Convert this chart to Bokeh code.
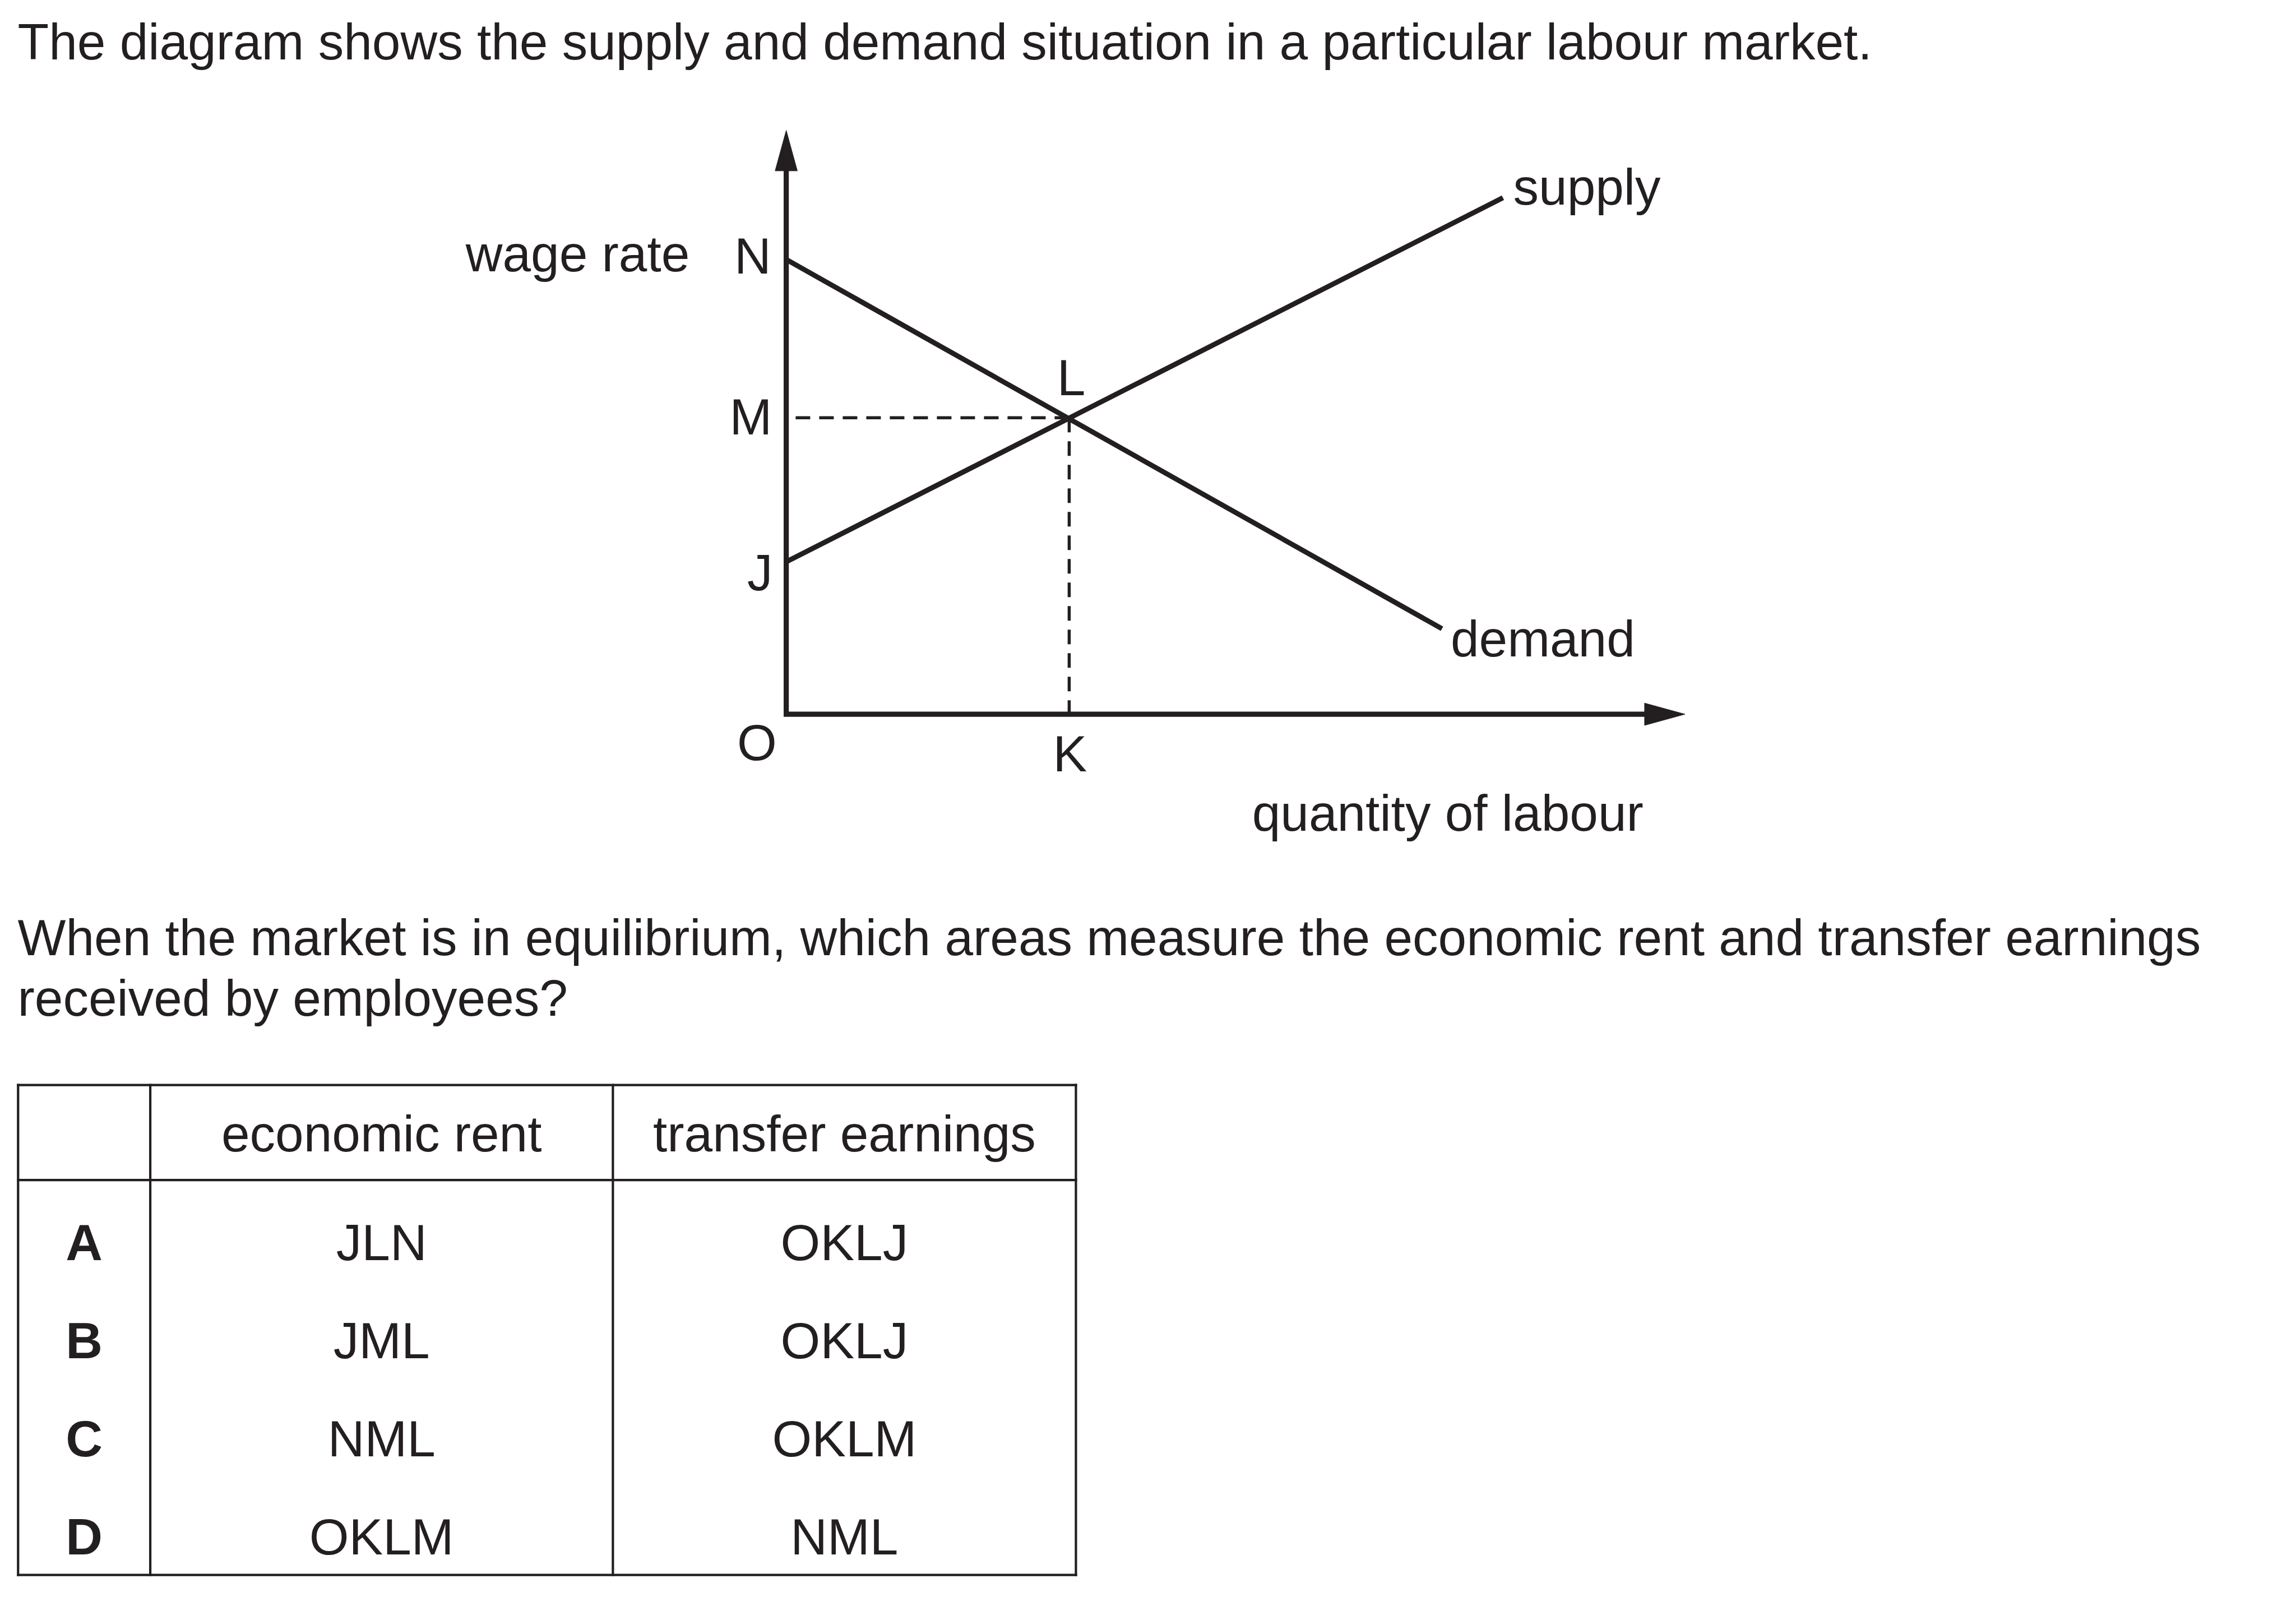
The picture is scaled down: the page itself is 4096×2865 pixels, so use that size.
from bokeh.plotting import figure
from bokeh.models import Range1d
from bokeh.core.properties import value
from bokeh.embed import file_html
from bokeh.resources import INLINE

# ---------------- data ----------------
title_text = "The diagram shows the supply and demand situation in a particular labour market."
question_lines = [
    "When the market is in equilibrium, which areas measure the economic rent and transfer earnings",
    "received by employees?",
]
y_axis_label = "wage rate"
x_axis_label = "quantity of labour"
supply_label = "supply"
demand_label = "demand"

# diagram values: quantity of labour (q) and wage rate (w), diagram units
supply_q = [0.0, 18.11]
supply_w = [3.85, 13.05]
demand_q = [0.0, 16.57]
demand_w = [11.49, 2.16]
eq_q = 7.15          # K
eq_w = 7.49          # M
q_axis_max = 22.71
w_axis_max = 14.75

point_names = ["N", "M", "J", "O", "K", "L"]
point_q = [0.0, 0.0, 0.0, 0.0, eq_q, eq_q]
point_w = [demand_w[0], eq_w, supply_w[0], 0.0, 0.0, eq_w]

table_header = ["economic rent", "transfer earnings"]
options = ["A", "B", "C", "D"]
economic_rent = ["JLN", "JML", "NML", "OKLM"]
transfer_earnings = ["OKLJ", "OKLJ", "OKLM", "NML"]

# ---------------- layout / style ----------------
S = 0.706                     # output px per reference px
W, H = 4080, 2849
REF_W, REF_H = W / S, H / S
INK = "#231F20"
FONT = "Liberation Sans"
FS = "91px"
BF = -44                      # baseline correction (reference px)

ORIGIN_X, ORIGIN_Y = 1986, 1804   # reference px of diagram origin
UNIT = 100.0                       # reference px per diagram unit
HEAD_LEN, HEAD_W = 102 / UNIT, 56 / UNIT

p = figure(width=W, height=H, x_range=Range1d(0, REF_W), y_range=Range1d(REF_H, 0),
           output_backend="svg", toolbar_location=None, min_border=0,
           x_axis_location=None, y_axis_location=None, outline_line_color=None,
           title=None, background_fill_color="white", border_fill_color="white")
p.grid.visible = False
p.extra_x_ranges = {"d": Range1d((0 - ORIGIN_X) / UNIT, (REF_W - ORIGIN_X) / UNIT)}
p.extra_y_ranges = {"d": Range1d((ORIGIN_Y - REF_H) / UNIT, ORIGIN_Y / UNIT)}
D = dict(x_range_name="d", y_range_name="d")

# axes with arrowheads
p.line([0, 0, q_axis_max - HEAD_LEN + 0.05], [w_axis_max - HEAD_LEN + 0.05, 0, 0],
       line_width=9.2, line_color=INK, line_join="miter", **D)
p.patch([-HEAD_W / 2, 0, HEAD_W / 2], [w_axis_max - HEAD_LEN, w_axis_max, w_axis_max - HEAD_LEN],
        fill_color=INK, line_color=INK, line_width=1, **D)
p.patch([q_axis_max - HEAD_LEN, q_axis_max, q_axis_max - HEAD_LEN], [HEAD_W / 2, 0, -HEAD_W / 2],
        fill_color=INK, line_color=INK, line_width=1, **D)

# dashed guides
p.line([eq_q, 0], [eq_w, eq_w], line_width=5.5, line_color=INK, line_dash="26 16", **D)
p.line([eq_q, eq_q], [eq_w, 0], line_width=5.5, line_color=INK, line_dash="26 16", **D)

# supply and demand curves
p.line(supply_q, supply_w, line_width=9, line_color=INK, **D)
p.line(demand_q, demand_w, line_width=9, line_color=INK, **D)

txt = dict(text_font=value(FONT), text_font_size=FS, text_color=INK, text_baseline="alphabetic")

# point labels (offsets in reference px, converted to output px)
right_idx = [0, 1, 2]
right_dx = [-38, -36, -34]
right_dy = [35, 42, 71]
p.text([point_q[i] for i in right_idx], [point_w[i] for i in right_idx],
       text=[point_names[i] for i in right_idx],
       x_offset=[d * S for d in right_dx], y_offset=[(d + BF) * S for d in right_dy],
       text_align="right", **txt, **D)
center_idx = [3, 4, 5]
center_dx = [-74, 2, 5]
center_dy = [116, 144, -58]
p.text([point_q[i] for i in center_idx], [point_w[i] for i in center_idx],
       text=[point_names[i] for i in center_idx],
       x_offset=[d * S for d in center_dx], y_offset=[(d + BF) * S for d in center_dy],
       text_align="center", **txt, **D)

# curve labels
p.text([supply_q[-1], demand_q[-1]], [supply_w[-1], demand_w[-1]],
       text=[supply_label, demand_label],
       x_offset=[26 * S, 22 * S], y_offset=[(16 + BF) * S, (69 + BF) * S],
       text_align="left", **txt, **D)

# axis labels
p.text([1742], [684 + BF], text=[y_axis_label], text_align="right", **txt)
p.text([4152], [2098 + BF], text=[x_axis_label], text_align="right", **txt)

# title and question
p.text([44], [149 + BF], text=[title_text], text_align="left", **txt)
p.text([44, 44], [2412 + BF, 2565 + BF], text=question_lines, text_align="left", **txt)

# table
TABLE_X = [45, 379, 1548, 2718]
TABLE_Y = [2741, 2981, 3979]
p.segment(x0=[TABLE_X[0]] * 3, x1=[TABLE_X[-1]] * 3, y0=TABLE_Y, y1=TABLE_Y,
          line_width=4.2, line_color=INK, line_cap="square")
p.segment(x0=TABLE_X, x1=TABLE_X, y0=[TABLE_Y[0]] * 4, y1=[TABLE_Y[-1]] * 4,
          line_width=4.2, line_color=INK, line_cap="square")

col_c = [(TABLE_X[i] + TABLE_X[i + 1]) / 2 for i in range(3)]
HEADER_BASE = 2908 + BF
ROW0, ROW_STEP = 3183 + BF, 248
p.text(col_c[1:], [HEADER_BASE] * 2, text=table_header, text_align="center", **txt)
row_y = [ROW0 + i * ROW_STEP for i in range(len(options))]
p.text([col_c[0]] * len(options), row_y, text=options, text_align="center",
       text_font_style="bold", **txt)
p.text([col_c[1]] * len(options), row_y, text=economic_rent, text_align="center", **txt)
p.text([col_c[2]] * len(options), row_y, text=transfer_earnings, text_align="center", **txt)

open("out.html", "w").write(file_html(p, INLINE))
